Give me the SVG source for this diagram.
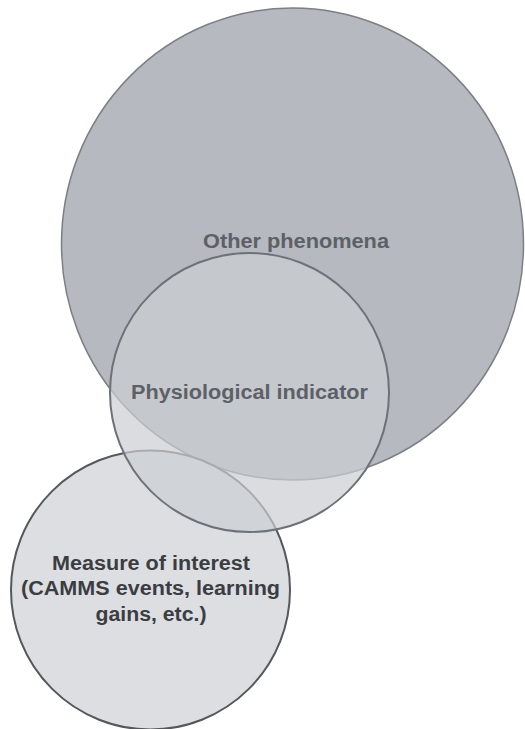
<svg xmlns="http://www.w3.org/2000/svg" width="525" height="729" viewBox="0 0 525 729">
<style>
.lbl{font-family:"Liberation Sans",Arial,sans-serif;font-weight:bold;text-anchor:middle}
</style>
<rect width="525" height="729" fill="#ffffff"/>
<g id="other-phenomena">
<ellipse cx="292.5" cy="244" rx="231" ry="236" fill="#b6b9bf" stroke="#7c7f85" stroke-width="1.5"/>
<text class="lbl" x="296" y="247.5" font-size="20.5" fill="#5d6066" textLength="186" lengthAdjust="spacingAndGlyphs">Other phenomena</text>
</g>
<g id="measure-of-interest">
<circle cx="150.5" cy="590" r="139.5" fill="#dcdee2" stroke="#55575b" stroke-width="2"/>
<text class="lbl" x="151" y="569.5" font-size="20" fill="#3b3d41" textLength="198" lengthAdjust="spacingAndGlyphs">Measure of interest</text>
<text class="lbl" x="150.5" y="595" font-size="20" fill="#3b3d41" textLength="259" lengthAdjust="spacingAndGlyphs">(CAMMS events, learning</text>
<text class="lbl" x="151" y="620.5" font-size="20" fill="#3b3d41" textLength="111" lengthAdjust="spacingAndGlyphs">gains, etc.)</text>
</g>
<g id="physiological-indicator">
<circle cx="249.5" cy="392.5" r="139.5" fill="#cbced3" fill-opacity="0.71" stroke="#6e7177" stroke-width="2"/>
<text class="lbl" x="249.5" y="398.5" font-size="20" fill="#5d6066" textLength="237" lengthAdjust="spacingAndGlyphs">Physiological indicator</text>
</g>
<g id="connectors"/>
</svg>
